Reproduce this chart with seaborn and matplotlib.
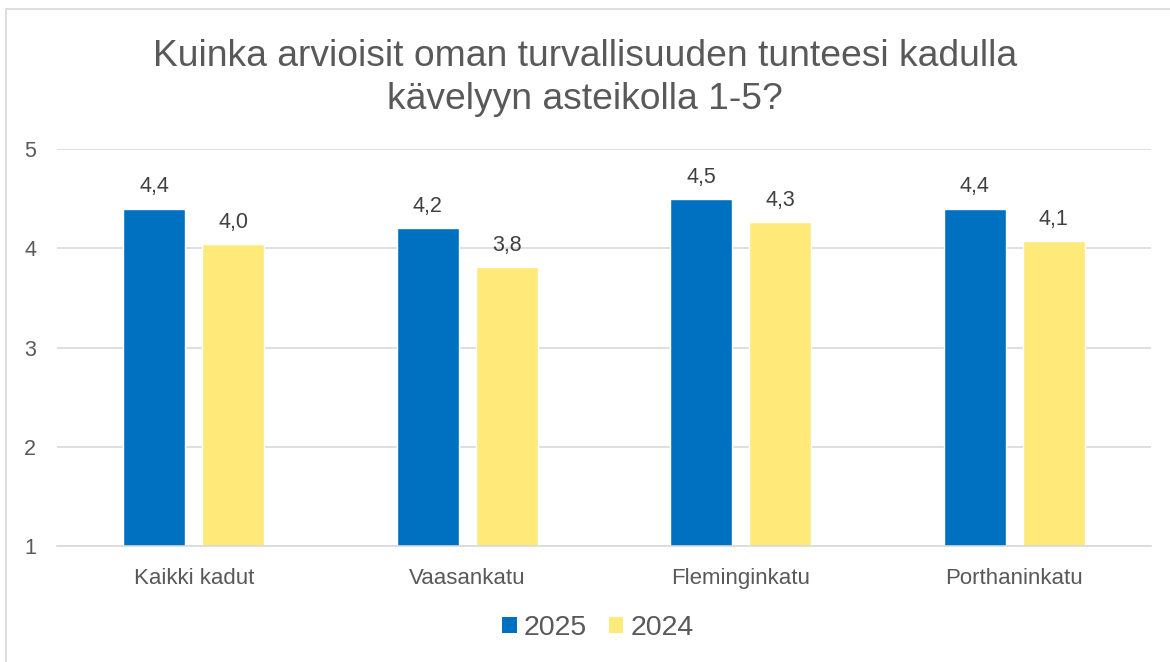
import matplotlib
matplotlib.use("Agg")
import matplotlib.pyplot as plt
import seaborn as sns
import pandas as pd
from matplotlib.patches import Rectangle, Patch

categories = ["Kaikki kadut", "Vaasankatu", "Fleminginkatu", "Porthaninkatu"]
years = ["2025", "2024"]
values_2025 = [4.4, 4.2, 4.5, 4.4]
values_2024 = [4.04, 3.81, 4.26, 4.07]
yticks = [1, 2, 3, 4, 5]
title = "Kuinka arvioisit oman turvallisuuden tunteesi kadulla\nkävelyyn asteikolla 1-5?"

colors = {"2025": "#0070C0", "2024": "#FFE979"}
text_color = "#595959"

df = pd.DataFrame({
    "Katu": categories * 2,
    "Vuosi": ["2025"] * len(categories) + ["2024"] * len(categories),
    "Arvo": values_2025 + values_2024,
})

sns.set_theme(style="white")
plt.rcParams["font.family"] = ["Liberation Sans", "DejaVu Sans"]

fig = plt.figure(figsize=(11.7, 6.62), dpi=100)
ax = fig.add_axes([57 / 1170, 1 - 546 / 662, (1151 - 57) / 1170, (546 - 149) / 662])

sns.barplot(data=df, x="Katu", y="Arvo", hue="Vuosi", hue_order=years,
            palette=colors, width=0.578, gap=0.215, ax=ax,
            bottom=0, legend=False, saturation=1, errorbar=None)

ax.set_ylim(1, 5)
ax.set_yticks(yticks)
ax.set_yticklabels([str(t) for t in yticks], color=text_color, fontsize=15.5)
ax.set_xlim(-0.5, len(categories) - 0.5)
ax.tick_params(axis="x", colors=text_color, labelsize=16, length=0, pad=16)
ax.tick_params(axis="y", length=0, pad=15)
ax.set_xlabel("")
ax.set_ylabel("")
ax.yaxis.grid(True, color="#D9D9D9", linewidth=1.2)
ax.set_axisbelow(True)
for s in ["top", "right", "left"]:
    ax.spines[s].set_visible(False)
ax.spines["bottom"].set_color("#D9D9D9")
ax.spines["bottom"].set_linewidth(1.2)

for cont in ax.containers:
    ax.bar_label(cont, labels=[f"{v:.1f}".replace(".", ",") for v in cont.datavalues],
                 padding=8, color="#404040", fontsize=15.5)

fig.text(0.5, 1 - 78 / 662, title, ha="center", va="center", fontsize=26.8,
         color=text_color, linespacing=1.32)

handles = [Patch(facecolor=colors[y], edgecolor="none") for y in years]
fig.legend(handles, years, loc="center", bbox_to_anchor=(0.5 + 13 / 1170, 1 - 628 / 662),
           ncol=2, frameon=False, fontsize=20.5, labelcolor=text_color,
           handlelength=0.52, handleheight=0.52, handletextpad=0.25, columnspacing=0.75)

fig.patches.append(Rectangle((6 / 1170, -0.1), 1.2, 1 - 9 / 662 + 0.1,
                             transform=fig.transFigure, fill=False,
                             edgecolor="#D9D9D9", linewidth=1.2))

fig.savefig("out.png", dpi=100)
